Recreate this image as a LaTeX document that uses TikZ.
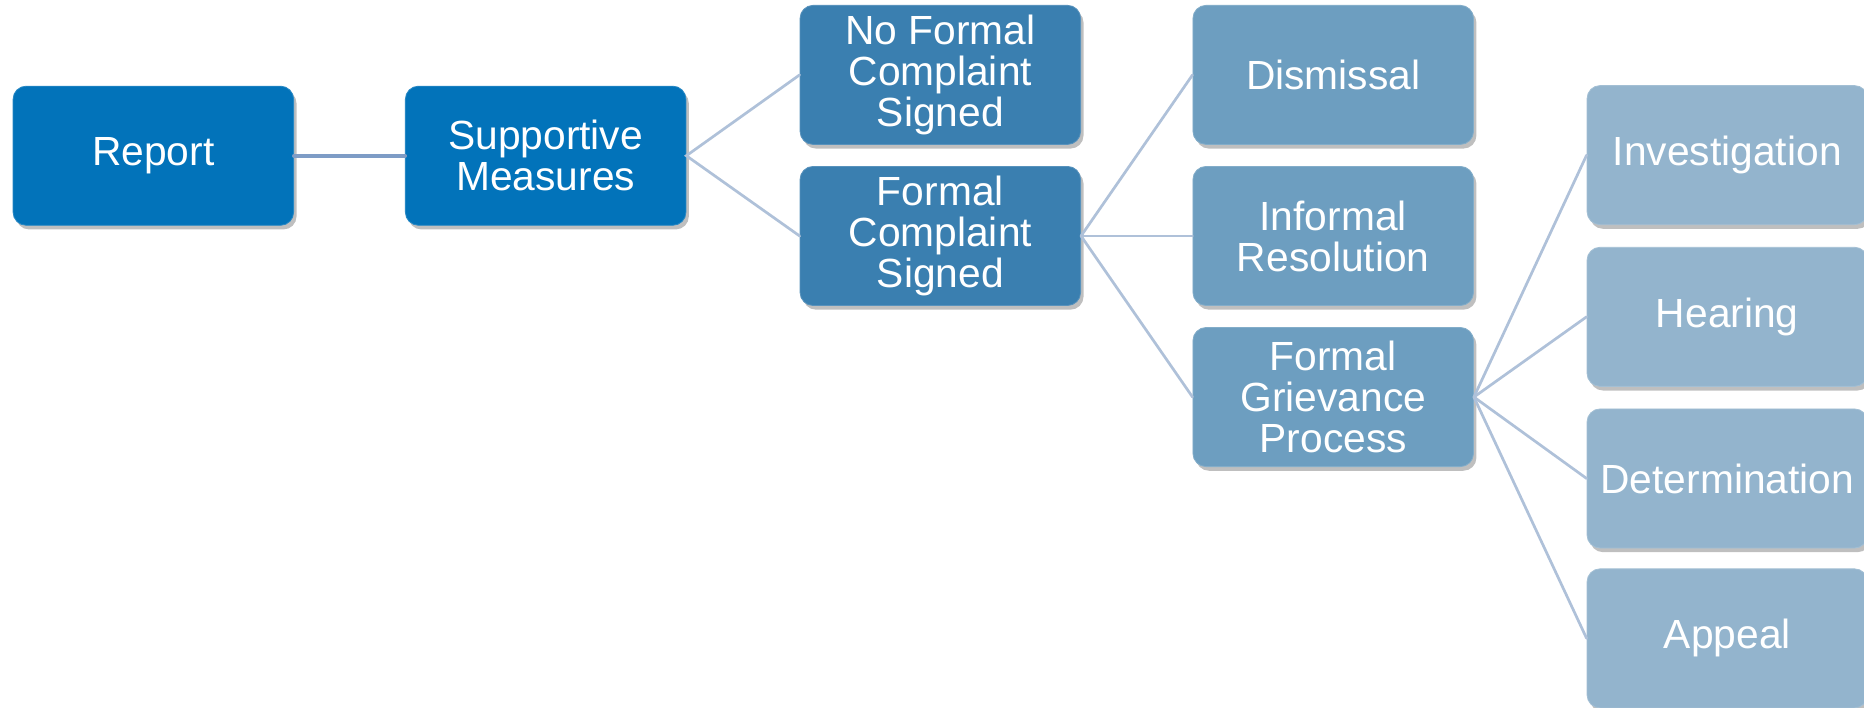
\documentclass[tikz,border=0pt]{standalone}
\usepackage{fontspec}
\setmainfont{Liberation Sans}
\usetikzlibrary{shadows}

\definecolor{lvlA}{HTML}{0273BA}
\definecolor{lvlB}{HTML}{3A7FB0}
\definecolor{lvlC}{HTML}{6D9EC0}
\definecolor{lvlD}{HTML}{93B4CD}
\definecolor{linkA}{HTML}{7E9CC6}
\definecolor{linkB}{HTML}{AFC1D9}

\begin{document}
\begin{tikzpicture}[line cap=round,
    box/.style={rounded corners=0.22cm, minimum width=4.72cm, minimum height=2.34cm, inner sep=0pt,
        align=center, text=white, font=\fontsize{19.5}{19.6}\selectfont,
        drop shadow={shadow xshift=1.4pt, shadow yshift=-2pt, opacity=0.5}},
    link/.style={linkB, line width=1.3pt}]

    \useasboundingbox (0,0) rectangle (31.36,-11.9);

    \node[box, fill=lvlA, draw=lvlA!85!white] (rep) at (2.58,-2.62) {Report};
    \node[box, fill=lvlA, draw=lvlA!85!white] (sup) at (9.18,-2.62) {Supportive\\Measures};

    \node[box, fill=lvlB, draw=lvlB!85!white] (nfc) at (15.82,-1.26) {No Formal\\Complaint\\Signed};
    \node[box, fill=lvlB, draw=lvlB!85!white] (fc) at (15.82,-3.97) {Formal\\Complaint\\Signed};

    \node[box, fill=lvlC, draw=lvlC!85!white] (dis) at (22.43,-1.26) {Dismissal};
    \node[box, fill=lvlC, draw=lvlC!85!white] (inf) at (22.43,-3.97) {Informal\\Resolution};
    \node[box, fill=lvlC, draw=lvlC!85!white] (fgp) at (22.43,-6.68) {Formal\\Grievance\\Process};

    \node[box, fill=lvlD, draw=lvlD!85!white] (inv) at (29.06,-2.61) {Investigation};
    \node[box, fill=lvlD, draw=lvlD!85!white] (hea) at (29.06,-5.33) {Hearing};
    \node[box, fill=lvlD, draw=lvlD!85!white] (det) at (29.06,-8.05) {Determination};
    \node[box, fill=lvlD, draw=lvlD!85!white] (app) at (29.06,-10.74) {Appeal};

    \draw[linkA, line width=2pt] (rep.east) -- (sup.west);
    \draw[link] (nfc.west) -- (sup.east) -- (fc.west);
    \draw[link] (fc.east) -- (dis.west);
    \draw[link] (fc.east) -- (inf.west);
    \draw[link] (fc.east) -- (fgp.west);
    \draw[link] (fgp.east) -- (inv.west);
    \draw[link] (fgp.east) -- (hea.west);
    \draw[link] (fgp.east) -- (det.west);
    \draw[link] (fgp.east) -- (app.west);

\end{tikzpicture}
\end{document}
